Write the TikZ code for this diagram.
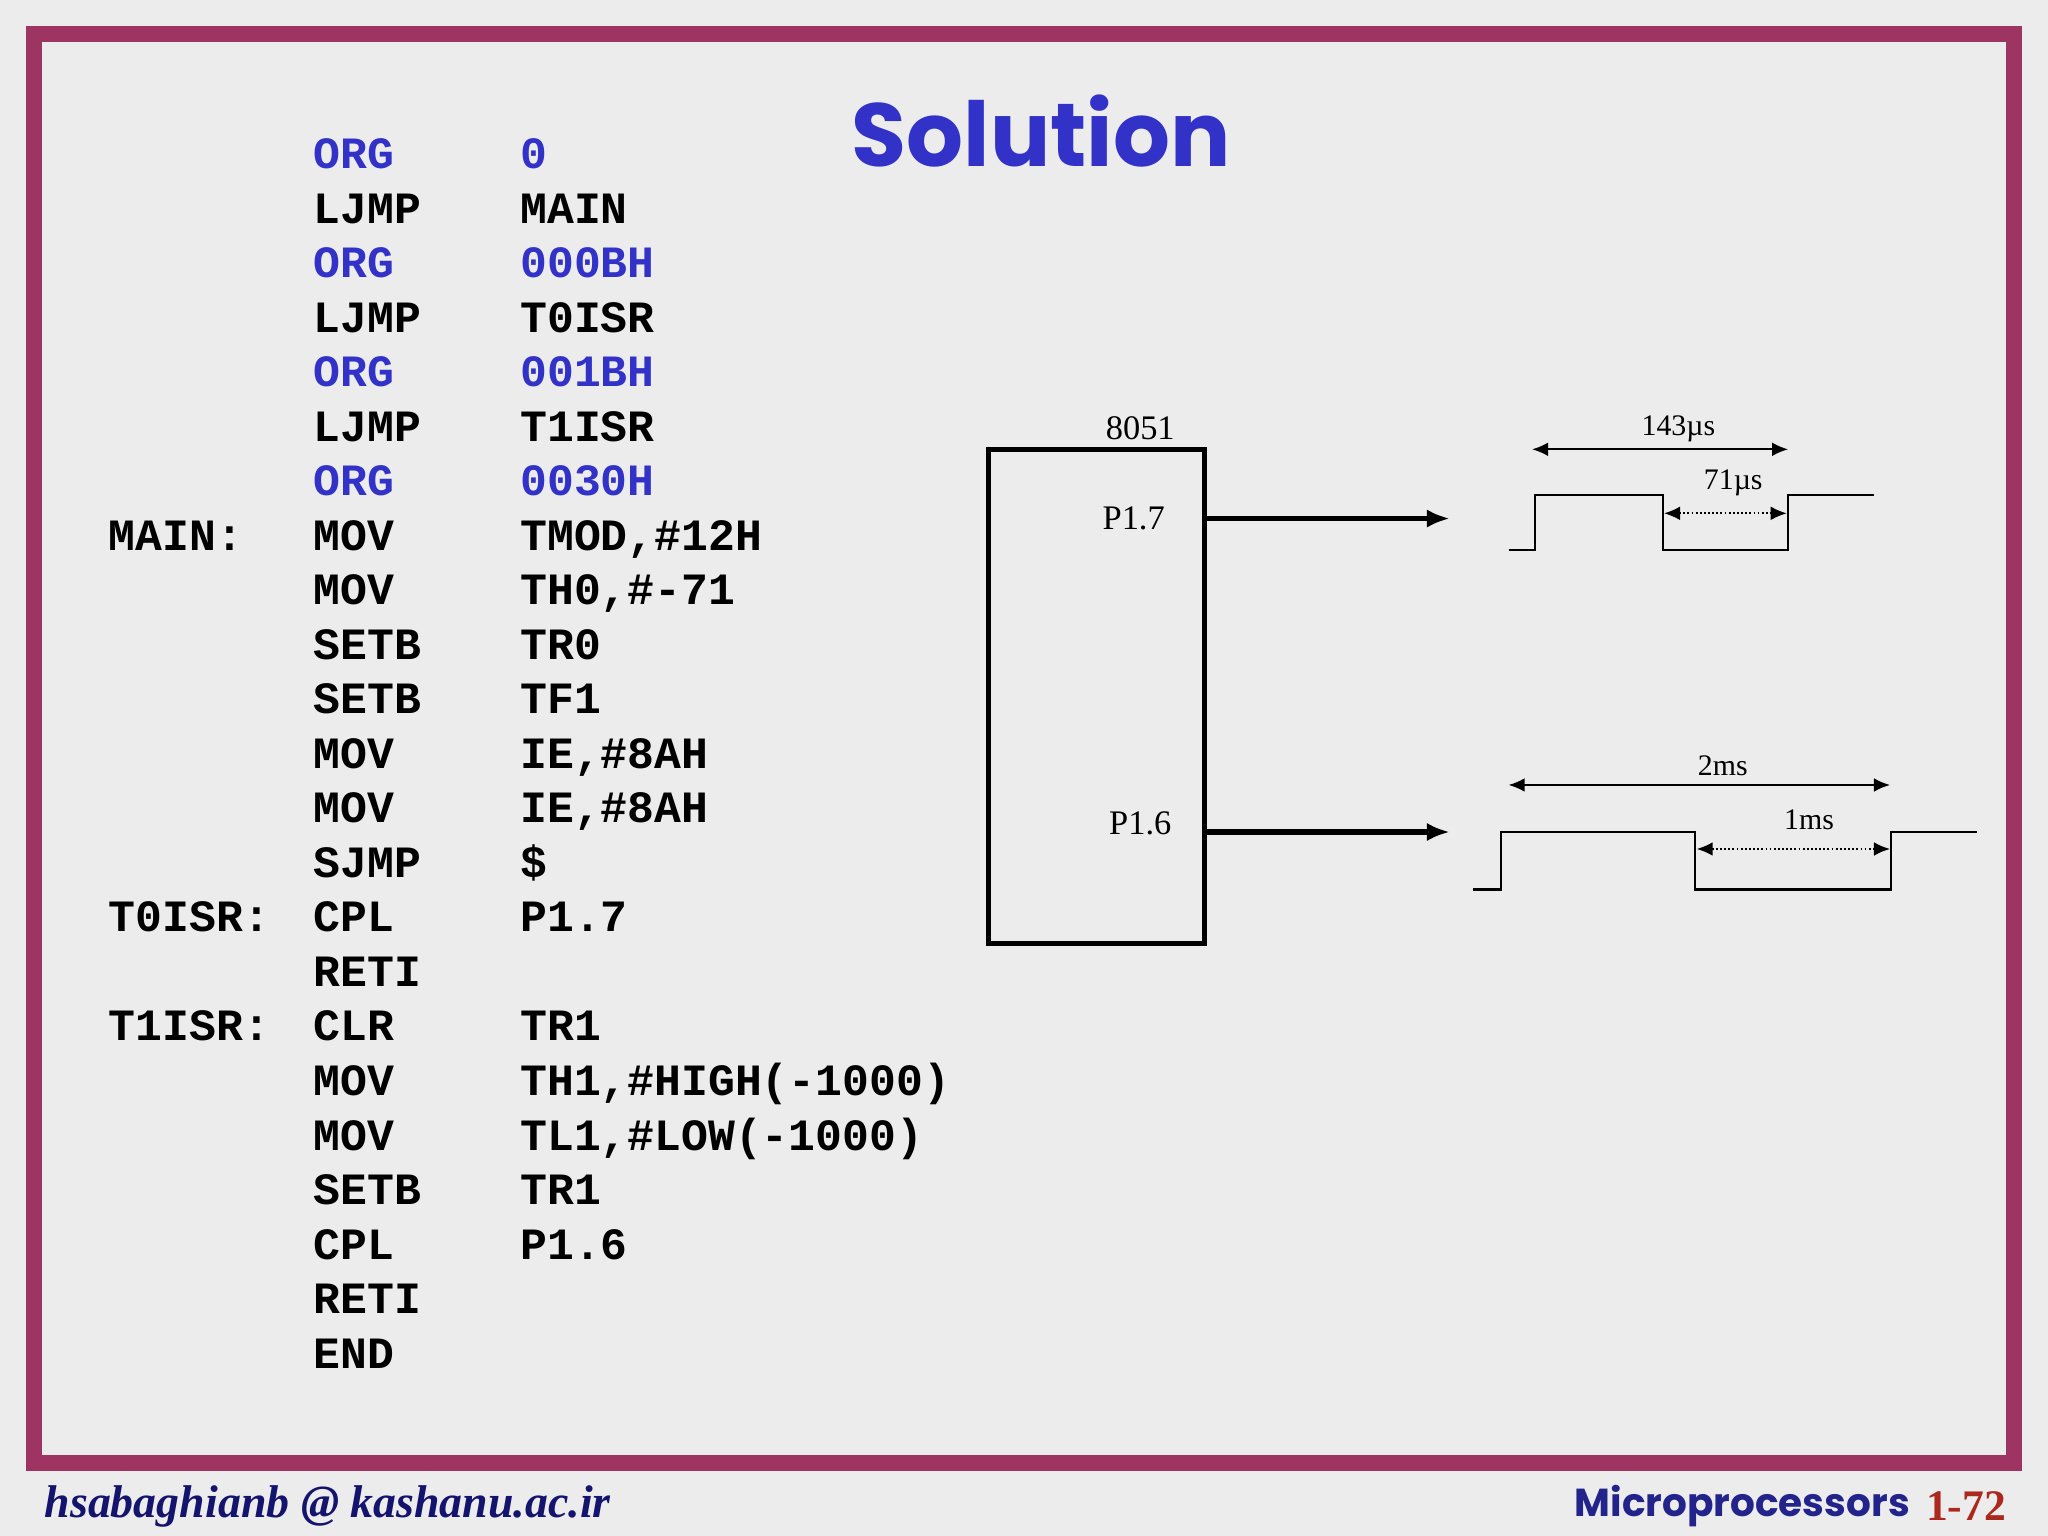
\documentclass[tikz,border=0pt]{standalone}
\usepackage{fontspec}
\setmainfont{Liberation Serif}
\newfontfamily\codefont{Liberation Mono}
\newfontfamily\titlefont{Poppins}
\usetikzlibrary{arrows.meta}
\definecolor{frame}{RGB}{158,52,98}
\definecolor{bg}{RGB}{236,236,236}
\definecolor{codeblue}{RGB}{50,50,200}
\definecolor{foot}{RGB}{20,20,110}
\definecolor{pagenum}{RGB}{170,40,30}
\tikzset{
 code/.style={anchor=base west,inner sep=0pt,font=\codefont\bfseries\fontsize{19.5}{20}\selectfont},
 lbl/.style={inner sep=1pt,font=\fontsize{13}{14}\selectfont},
 wave/.style={line width=0.9pt},
 dim/.style={line width=0.8pt,{Latex[length=7pt,width=6pt]}-{Latex[length=7pt,width=6pt]}},
 ddim/.style={dim,densely dotted},
 pin/.style={line width=2.2pt,-{Latex[length=10pt,width=8pt]}}
}
\begin{document}
\begin{tikzpicture}[x=0.02cm,y=-0.02cm]
\fill[bg] (0,0) rectangle (1568,1176);
\useasboundingbox (0,0) rectangle (1568,1176);
\draw[frame,line width=7pt] (26,26) rectangle (1542,1120);
\node[codeblue,font=\titlefont\bfseries\fontsize{39}{44}\selectfont] (title) at (797,100) {Solution};
% code
\foreach \i/\l/\m/\o/\c in {0//ORG/0/codeblue,1//LJMP/MAIN/black,2//ORG/000BH/codeblue,3//LJMP/T0ISR/black,4//ORG/001BH/codeblue,5//LJMP/T1ISR/black,6//ORG/0030H/codeblue,7/MAIN:/MOV/{TMOD,\#12H}/black,8//MOV/{TH0,\#-71}/black,9//SETB/TR0/black,10//SETB/TF1/black,11//MOV/{IE,\#8AH}/black,12//MOV/{IE,\#8AH}/black,13//SJMP/\$/black,14/T0ISR:/CPL/P1.7/black,15//RETI//black,16/T1ISR:/CLR/TR1/black,17//MOV/{TH1,\#HIGH(-1000)}/black,18//MOV/{TL1,\#LOW(-1000)}/black,19//SETB/TR1/black,20//CPL/P1.6/black,21//RETI//black,22//END//black}{
 \node[code,text=\c] (l\i) at (83,{129+41.75*\i}) {\l};
 \node[code,text=\c] (m\i) at (240,{129+41.75*\i}) {\m};
 \node[code,text=\c] (o\i) at (398,{129+41.75*\i}) {\o};
}
% 8051 block
\draw[line width=2.2pt] (757,344) rectangle (922,722);
\node[lbl,font=\fontsize{15}{16}\selectfont] (chip) at (873,328) {8051};
\node[lbl,font=\fontsize{15}{16}\selectfont] (p17) at (868,397) {P1.7};
\node[lbl,font=\fontsize{15}{16}\selectfont] (p16) at (873,630) {P1.6};
\coordinate (s1) at (922,397); \coordinate (e1) at (1110,397);
\coordinate (s2) at (922,637); \coordinate (e2) at (1110,637);
\draw[pin] (s1) -- (e1);
\draw[pin] (s2) -- (e2);
% waveform 1
\draw[wave] (1155,421) -- (1175,421) -- (1175,379) -- (1273,379) -- (1273,421) -- (1369,421) -- (1369,379) -- (1435,379);
\coordinate (a1) at (1173,344); \coordinate (a2) at (1369,344);
\draw[dim] (a1) -- (a2);
\node[lbl] (t143) at (1285,328) {143\textmu s};
\coordinate (b1) at (1274,393); \coordinate (b2) at (1368,393);
\draw[ddim] (b1) -- (b2);
\node[lbl] (t71) at (1327,370) {71\textmu s};
% waveform 2
\draw[wave] (1128,681) -- (1149,681) -- (1149,637) -- (1298,637) -- (1298,681) -- (1448,681) -- (1448,637) -- (1514,637);
\coordinate (c1) at (1155,601); \coordinate (c2) at (1447,601);
\draw[dim] (c1) -- (c2);
\node[lbl] (t2) at (1319,586) {2ms};
\coordinate (d1) at (1299,650); \coordinate (d2) at (1447,650);
\draw[ddim] (d1) -- (d2);
\node[lbl] (t1) at (1385,628) {1ms};
% footer
\node[anchor=west,text=foot,font=\bfseries\itshape\fontsize{20}{22}\selectfont] (mail) at (28,1153) {hsabaghianb @ kashanu.ac.ir};
\node[anchor=east,text=pagenum,font=\bfseries\fontsize{19}{22}\selectfont] (num) at (1542,1153) {1-72};
\node[anchor=east,text=codeblue!70!black,font=\titlefont\bfseries\fontsize{17}{22}\selectfont] (mp) at (num.west) {Microprocessors\ };
\end{tikzpicture}
\end{document}
